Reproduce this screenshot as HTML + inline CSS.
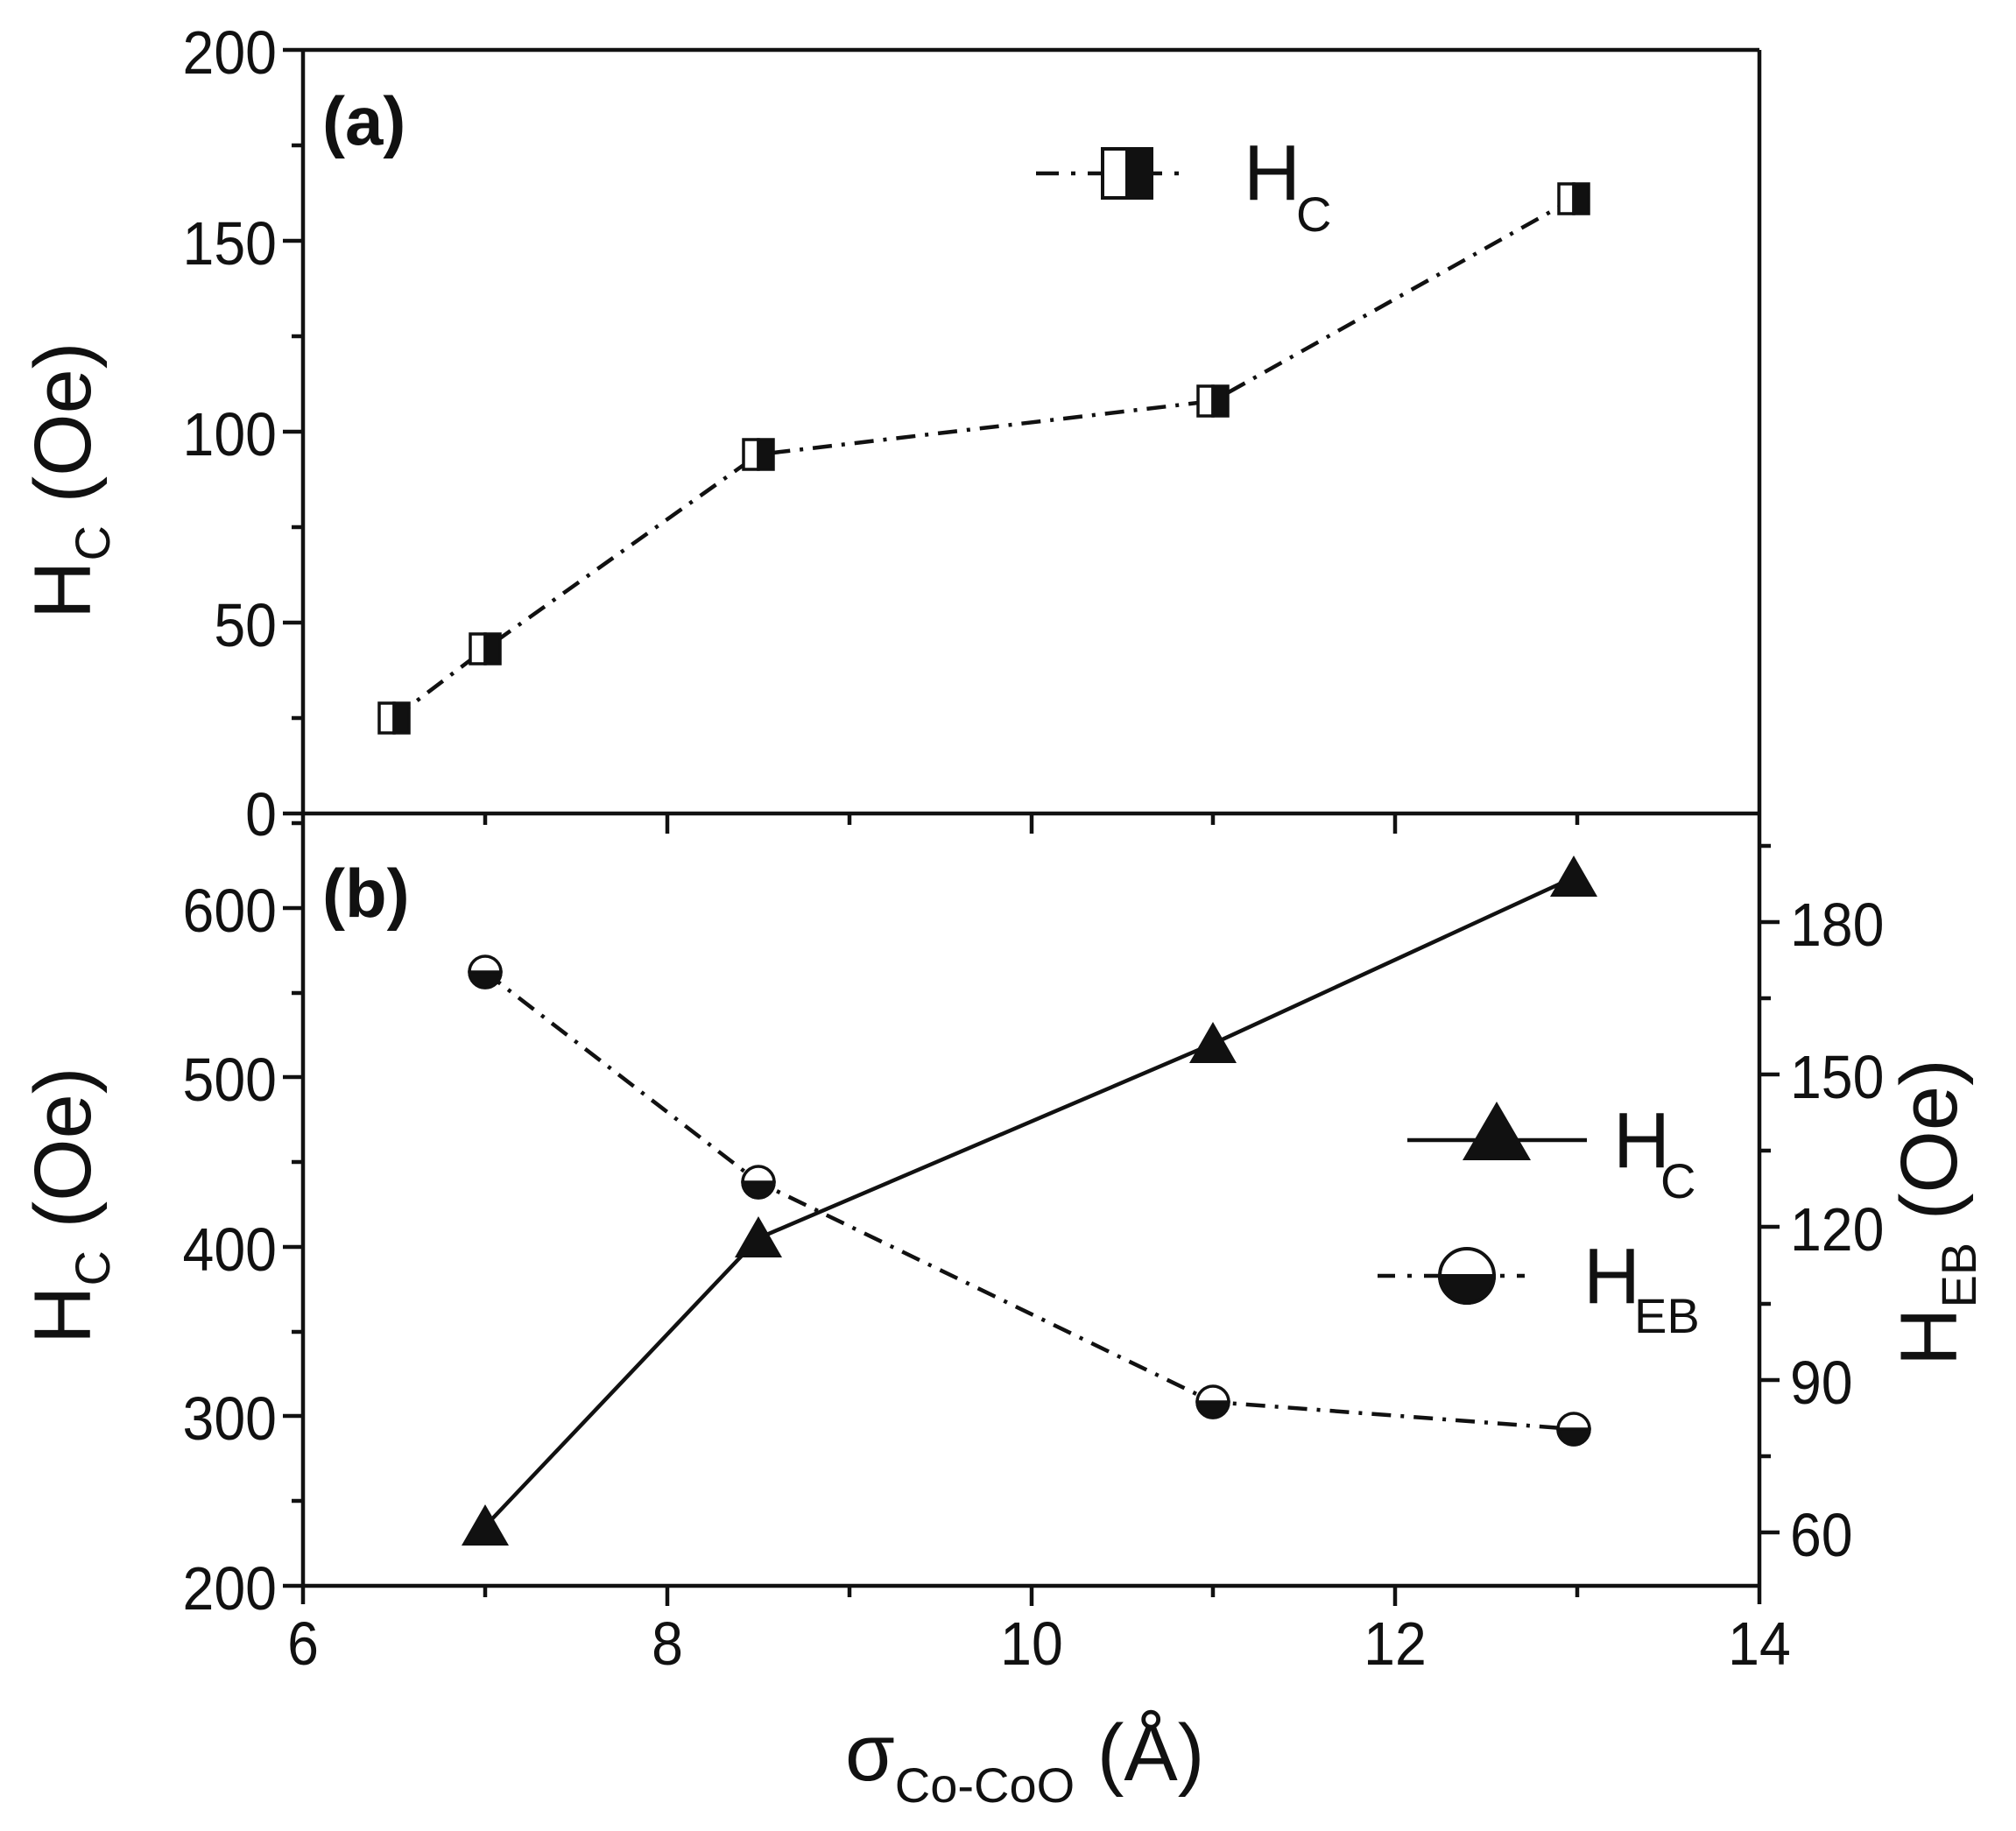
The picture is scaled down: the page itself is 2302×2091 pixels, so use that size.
<!DOCTYPE html>
<html><head><meta charset="utf-8"><style>
html,body{margin:0;padding:0;background:#fff}
svg{display:block}
text{font-family:"Liberation Sans",Arial,sans-serif;fill:#111}
</style></head><body>
<svg width="2302" height="2091" viewBox="0 0 2302 2091" xmlns="http://www.w3.org/2000/svg">
<g stroke="#111" stroke-width="4.5" fill="none">
<line x1="323" y1="57" x2="2009" y2="57"/>
<line x1="346" y1="57" x2="346" y2="1832"/>
<line x1="2009" y1="57" x2="2009" y2="1832"/>
<line x1="323" y1="929" x2="2009" y2="929"/>
<line x1="323" y1="1811" x2="2009" y2="1811"/>
<line x1="323" y1="275" x2="346" y2="275"/>
<line x1="323" y1="493" x2="346" y2="493"/>
<line x1="323" y1="711" x2="346" y2="711"/>
<line x1="333" y1="166" x2="346" y2="166"/>
<line x1="333" y1="384" x2="346" y2="384"/>
<line x1="333" y1="602" x2="346" y2="602"/>
<line x1="333" y1="820" x2="346" y2="820"/>
<line x1="323" y1="1037" x2="346" y2="1037"/>
<line x1="323" y1="1230" x2="346" y2="1230"/>
<line x1="323" y1="1424" x2="346" y2="1424"/>
<line x1="323" y1="1617" x2="346" y2="1617"/>
<line x1="333" y1="940" x2="346" y2="940"/>
<line x1="333" y1="1134" x2="346" y2="1134"/>
<line x1="333" y1="1327" x2="346" y2="1327"/>
<line x1="333" y1="1521" x2="346" y2="1521"/>
<line x1="333" y1="1714" x2="346" y2="1714"/>
<line x1="2009" y1="1750" x2="2032" y2="1750"/>
<line x1="2009" y1="1576" x2="2032" y2="1576"/>
<line x1="2009" y1="1401" x2="2032" y2="1401"/>
<line x1="2009" y1="1227" x2="2032" y2="1227"/>
<line x1="2009" y1="1053" x2="2032" y2="1053"/>
<line x1="2009" y1="1663" x2="2022" y2="1663"/>
<line x1="2009" y1="1489" x2="2022" y2="1489"/>
<line x1="2009" y1="1314" x2="2022" y2="1314"/>
<line x1="2009" y1="1140" x2="2022" y2="1140"/>
<line x1="2009" y1="966" x2="2022" y2="966"/>
<line x1="762" y1="1811" x2="762" y2="1834"/>
<line x1="1178" y1="1811" x2="1178" y2="1834"/>
<line x1="1593" y1="1811" x2="1593" y2="1834"/>
<line x1="554" y1="1811" x2="554" y2="1824"/>
<line x1="970" y1="1811" x2="970" y2="1824"/>
<line x1="1385" y1="1811" x2="1385" y2="1824"/>
<line x1="1801" y1="1811" x2="1801" y2="1824"/>
<line x1="762" y1="929" x2="762" y2="952"/>
<line x1="1178" y1="929" x2="1178" y2="952"/>
<line x1="1593" y1="929" x2="1593" y2="952"/>
<line x1="554" y1="929" x2="554" y2="942"/>
<line x1="970" y1="929" x2="970" y2="942"/>
<line x1="1385" y1="929" x2="1385" y2="942"/>
<line x1="1801" y1="929" x2="1801" y2="942"/>
</g>
<g font-size="70" text-anchor="end" transform="translate(316,0) scale(0.92,1) translate(-316,0)">
<text x="316" y="84">200</text>
<text x="316" y="302">150</text>
<text x="316" y="520">100</text>
<text x="316" y="738">50</text>
<text x="316" y="954">0</text>
<text x="316" y="1064">600</text>
<text x="316" y="1257">500</text>
<text x="316" y="1451">400</text>
<text x="316" y="1644">300</text>
<text x="316" y="1838">200</text>
</g>
<g font-size="70" transform="translate(2044,0) scale(0.92,1) translate(-2044,0)">
<text x="2044" y="1777">60</text>
<text x="2044" y="1603">90</text>
<text x="2044" y="1428">120</text>
<text x="2044" y="1254">150</text>
<text x="2044" y="1080">180</text>
</g>
<g font-size="70" text-anchor="middle">
<text transform="translate(346,1901) scale(0.92,1)">6</text>
<text transform="translate(762,1901) scale(0.92,1)">8</text>
<text transform="translate(1178,1901) scale(0.92,1)">10</text>
<text transform="translate(1593,1901) scale(0.92,1)">12</text>
<text transform="translate(2009,1901) scale(0.92,1)">14</text>
</g>
<text x="368" y="165" font-size="78" font-weight="bold">(a)</text>
<text x="368" y="1047" font-size="78" font-weight="bold">(b)</text>
<text transform="translate(103,707) rotate(-90)" font-size="92">H<tspan font-size="56" dy="22">C</tspan><tspan dy="-22"> (Oe)</tspan></text>
<text transform="translate(103,1535) rotate(-90)" font-size="92">H<tspan font-size="56" dy="22">C</tspan><tspan dy="-22"> (Oe)</tspan></text>
<text transform="translate(2234,1560) rotate(-90)" font-size="92">H<tspan font-size="56" dy="22">EB</tspan><tspan dy="-22"> (Oe)</tspan></text>
<text x="965" y="2033" font-size="92">σ<tspan font-size="56" dy="25">Co-CoO</tspan><tspan dy="-25"> (Å)</tspan></text>
<polyline points="450,820 554,741 866,519 1385,458 1797,227" fill="none" stroke="#111" stroke-width="4.5" stroke-dasharray="22,11,4,11"/>
<g stroke="#111" stroke-width="3.5">
<g transform="translate(450,820)"><rect x="-17" y="-17" width="17" height="34" fill="#fff"/><rect x="0" y="-17" width="17" height="34" fill="#111"/></g>
<g transform="translate(554,741)"><rect x="-17" y="-17" width="17" height="34" fill="#fff"/><rect x="0" y="-17" width="17" height="34" fill="#111"/></g>
<g transform="translate(866,519)"><rect x="-17" y="-17" width="17" height="34" fill="#fff"/><rect x="0" y="-17" width="17" height="34" fill="#111"/></g>
<g transform="translate(1385,458)"><rect x="-17" y="-17" width="17" height="34" fill="#fff"/><rect x="0" y="-17" width="17" height="34" fill="#111"/></g>
<g transform="translate(1797,227)"><rect x="-17" y="-17" width="17" height="34" fill="#fff"/><rect x="0" y="-17" width="17" height="34" fill="#111"/></g>
</g>
<line x1="1183" y1="198" x2="1353" y2="198" stroke="#111" stroke-width="4.5" stroke-dasharray="26,14,5,14"/>
<g stroke="#111" stroke-width="4"><rect x="1259" y="170" width="28" height="56" fill="#fff"/><rect x="1287" y="170" width="28" height="56" fill="#111"/></g>
<text x="1420" y="228" font-size="90">H</text>
<text x="1480" y="264" font-size="56">C</text>
<polyline points="554,1743 866,1414 1385,1192 1797,1002" fill="none" stroke="#111" stroke-width="4.5"/>
<g fill="#111">
<polygon points="554,1718 581,1765 527,1765"/>
<polygon points="866,1389 893,1436 839,1436"/>
<polygon points="1385,1167 1412,1214 1358,1214"/>
<polygon points="1797,977 1824,1024 1770,1024"/>
</g>
<polyline points="554,1110 866,1350 1385,1601 1797,1632" fill="none" stroke="#111" stroke-width="4.5" stroke-dasharray="22,11,4,11"/>
<g stroke="#111" stroke-width="3.5">
<g transform="translate(554,1110)"><circle r="18" fill="#fff"/><path d="M-18,0 A18,18 0 0 0 18,0 Z" fill="#111"/></g>
<g transform="translate(866,1350)"><circle r="18" fill="#fff"/><path d="M-18,0 A18,18 0 0 0 18,0 Z" fill="#111"/></g>
<g transform="translate(1385,1601)"><circle r="18" fill="#fff"/><path d="M-18,0 A18,18 0 0 0 18,0 Z" fill="#111"/></g>
<g transform="translate(1797,1632)"><circle r="18" fill="#fff"/><path d="M-18,0 A18,18 0 0 0 18,0 Z" fill="#111"/></g>
</g>
<line x1="1607" y1="1302" x2="1812" y2="1302" stroke="#111" stroke-width="4.5"/>
<polygon points="1709,1258 1748,1325 1670,1325" fill="#111"/>
<text x="1842" y="1333" font-size="90">H</text>
<text x="1896" y="1368" font-size="56">C</text>
<line x1="1573" y1="1457" x2="1741" y2="1457" stroke="#111" stroke-width="4.5" stroke-dasharray="20,14,5,14"/>
<g transform="translate(1675,1457)" stroke="#111" stroke-width="4"><circle r="31" fill="#fff"/><path d="M-31,0 A31,31 0 0 0 31,0 Z" fill="#111"/></g>
<text x="1808" y="1488" font-size="90">H</text>
<text x="1866" y="1522" font-size="56">EB</text>
</svg>
</body></html>
